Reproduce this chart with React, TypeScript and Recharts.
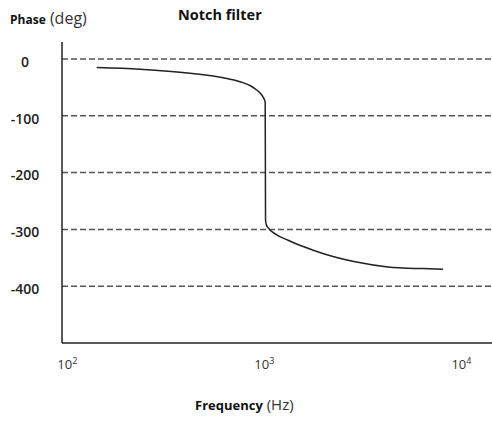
import { CartesianGrid, Line, LineChart, XAxis, YAxis } from "recharts";

// frequency (Hz) and phase (deg)
const freq = [
  141, 234, 420, 617, 753, 850, 918, 960, 985, 1002, 1010, 1014, 1022, 1044,
  1150, 1319, 1600, 1963, 2887, 4245, 6318, 8075,
];
const phase = [
  -15, -18, -25, -33, -40, -47, -55, -61, -67, -72, -76, -283, -291, -297,
  -309, -319, -331, -342, -357, -366, -369, -370,
];
const data = freq.map((f, i) => ({ f, phase: phase[i] }));

const yTicks = [0, -100, -200, -300, -400];
const xTicks = [100, 1000, 10000];
const xExp = ["2", "3", "4"];

const FONT = "'Open Sans', sans-serif";

function YTick({ y, payload }: { y?: number; payload?: { value: number } }) {
  return (
    <text
      x={25}
      y={(y ?? 0) + 4}
      textAnchor="middle"
      dominantBaseline="middle"
      fill="#222"
      fontSize={14}
      fontWeight={600}
      fontFamily={FONT}
    >
      {payload?.value}
    </text>
  );
}

function XTick({ x, y, payload }: { x?: number; y?: number; payload?: { value: number } }) {
  const i = xTicks.indexOf(payload?.value ?? 0);
  return (
    <text
      x={x}
      y={(y ?? 0) + 18}
      textAnchor="middle"
      fill="#333"
      fontSize={13}
      fontFamily={FONT}
    >
      10
      <tspan dy={-5} fontSize={9}>
        {xExp[i]}
      </tspan>
    </text>
  );
}

export default function App() {
  return (
    <div
      style={{
        position: "absolute",
        left: 0,
        top: 0,
        width: 492,
        height: 423,
        background: "#fff",
        fontFamily: FONT,
      }}
    >
      <LineChart
        width={492}
        height={423}
        data={data}
        margin={{ top: 42, right: 0, bottom: 50, left: 0 }}
      >
        <CartesianGrid
          vertical={false}
          horizontalValues={yTicks}
          stroke="#555"
          strokeWidth={1.5}
          strokeDasharray="6 3"
        />
        <XAxis
          dataKey="f"
          type="number"
          scale="log"
          domain={[94, 14300]}
          ticks={xTicks}
          allowDataOverflow
          height={30}
          axisLine={{ stroke: "#222", strokeWidth: 1.5 }}
          tickLine={false}
          tick={<XTick />}
        />
        <YAxis
          type="number"
          domain={[-500, 30]}
          ticks={yTicks}
          allowDataOverflow
          width={62}
          axisLine={{ stroke: "#222", strokeWidth: 1.5 }}
          tickLine={false}
          tick={<YTick />}
        />
        <Line
          dataKey="phase"
          type="monotone"
          stroke="#222"
          strokeWidth={1.5}
          dot={false}
          isAnimationActive={false}
        />
      </LineChart>
      <div
        style={{
          position: "absolute",
          left: 10,
          top: 7,
          color: "#111",
          whiteSpace: "nowrap",
        }}
      >
        <span style={{ fontSize: 12, fontWeight: 700 }}>Phase</span>
        <span style={{ fontSize: 16, color: "#333" }}> (deg)</span>
      </div>
      <div
        style={{
          position: "absolute",
          left: 178,
          top: 5,
          fontSize: 14.5,
          fontWeight: 700,
          color: "#111",
          whiteSpace: "nowrap",
        }}
      >
        Notch filter
      </div>
      <div
        style={{
          position: "absolute",
          left: 195,
          top: 393,
          color: "#111",
          whiteSpace: "nowrap",
        }}
      >
        <span style={{ fontSize: 13, fontWeight: 700 }}>Frequency</span>
        <span style={{ fontSize: 15, color: "#333" }}> (Hz)</span>
      </div>
    </div>
  );
}
